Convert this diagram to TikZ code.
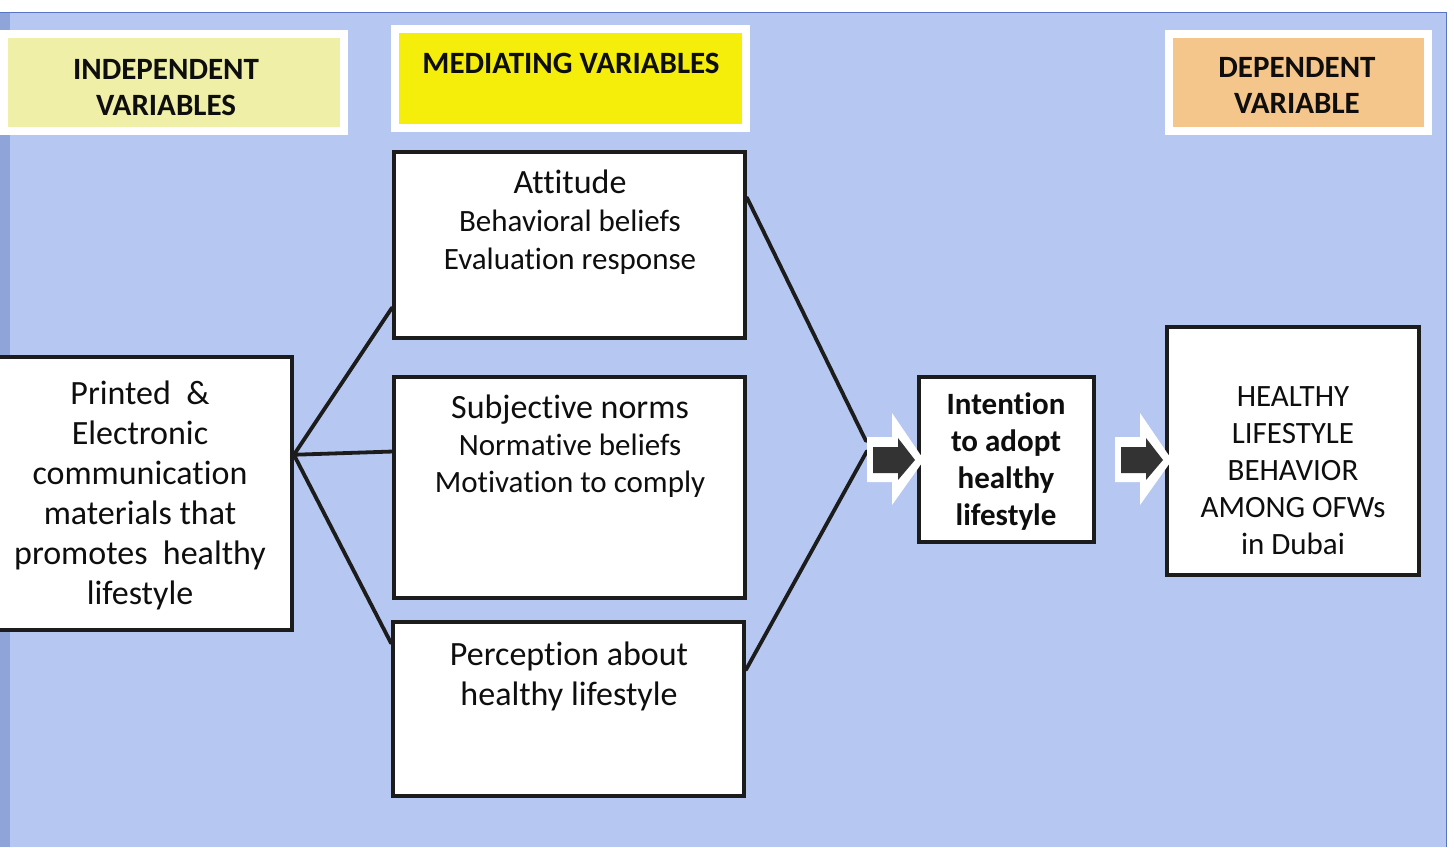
\documentclass[tikz,border=0pt]{standalone}
\usepackage{fontspec}
\setmainfont{Carlito}[Ligatures=NoCommon]
\usetikzlibrary{calc,shadows}
\definecolor{bgblue}{HTML}{B6C8F2}
\definecolor{edgeblue}{HTML}{8FA4D8}
\definecolor{lineblue}{HTML}{5A74C4}
\definecolor{paleyellow}{HTML}{EFEFA8}
\definecolor{brightyellow}{HTML}{F4EE0A}
\definecolor{paleorange}{HTML}{F5C68C}
\definecolor{boxline}{HTML}{1C1C1C}
\definecolor{ink}{HTML}{0E0E0E}
\definecolor{arrowdark}{HTML}{333333}
\tikzset{
  hdr/.style={draw=white, line width=8pt, inner sep=0pt,
    drop shadow={opacity=0.25, shadow xshift=1pt, shadow yshift=-2pt}},
  mainbox/.style={draw=boxline, fill=white, line width=3.8pt, inner sep=0pt},
  txt/.style={align=center, text=ink, inner sep=0pt},
  link/.style={draw=boxline, line width=3.8pt, line cap=round},
  blockarrow/.pic={
    \fill[white] (-57,-23) -- (-32,-23) -- (-32,-47) -- (0,0) -- (-32,45) -- (-32,22) -- (-57,22) -- cycle;
    \fill[arrowdark] (-51,-13) -- (-26,-13) -- (-26,-22) -- (-9,0) -- (-26,20) -- (-26,13) -- (-51,13) -- cycle;
  }
}
\begin{document}
\begin{tikzpicture}[x=1pt,y=-1pt]
\useasboundingbox (0,0) rectangle (1454,847);
% background
\fill[white] (0,0) rectangle (1454,847);
\fill[bgblue] (0,12) rectangle (1446,847);
\fill[edgeblue] (0,12) rectangle (10,847);
\draw[lineblue, line width=1pt] (0,12) -- (1446,12) -- (1446,847);

% header boxes
\node[hdr, fill=paleyellow, minimum width=340pt, minimum height=97pt] (hind) at (174,82.5) {};
\node[txt, font=\fontsize{31}{36}\selectfont\bfseries] (hindt) at (166,88) {INDEPENDENT\\VARIABLES};
\node[hdr, fill=brightyellow, minimum width=351pt, minimum height=99pt] (hmed) at (570.5,78.5) {};
\node[txt, font=\fontsize{31}{36}\selectfont\bfseries] (hmedt) at (571,63) {MEDIATING VARIABLES};
\node[hdr, fill=paleorange, minimum width=259pt, minimum height=97pt] (hdep) at (1298.5,82.5) {};
\node[txt, font=\fontsize{31}{36}\selectfont\bfseries] (hdept) at (1297,85) {DEPENDENT\\VARIABLE};

% main boxes
\node[mainbox, minimum width=302pt, minimum height=273pt] (left) at (141,493.5) {};
\node[txt, font=\fontsize{34}{40}\selectfont] (leftt) at (140,495) {Printed~~\&\\Electronic\\communication\\materials that\\promotes~~healthy\\lifestyle};

\node[mainbox, minimum width=351pt, minimum height=186pt] (att) at (569.5,245) {};
\node[txt, font=\fontsize{31}{38}\selectfont] (attt) at (570,222) {{\fontsize{34}{38}\selectfont Attitude}\\Behavioral beliefs\\Evaluation response};

\node[mainbox, minimum width=351pt, minimum height=221pt] (subj) at (569.5,487.5) {};
\node[txt, font=\fontsize{31}{37}\selectfont] (subjt) at (570,446) {{\fontsize{34}{37}\selectfont Subjective norms}\\Normative beliefs\\Motivation to comply};

\node[mainbox, minimum width=351pt, minimum height=174pt] (perc) at (568.5,709) {};
\node[txt, font=\fontsize{34}{40}\selectfont] (perct) at (569,676) {Perception about\\healthy lifestyle};

\node[mainbox, minimum width=175pt, minimum height=165pt] (intent) at (1006.5,459.5) {};
\node[txt, font=\fontsize{31}{37}\selectfont\bfseries] (intentt) at (1006,462) {Intention\\to adopt\\healthy\\lifestyle};

\node[mainbox, minimum width=252pt, minimum height=248pt] (beh) at (1293,451) {};
\node[txt, font=\fontsize{31}{37}\selectfont] (beht) at (1293,471) {HEALTHY\\LIFESTYLE\\BEHAVIOR\\AMONG OFWs\\in Dubai};

% connectors
\coordinate (hub) at ($(left.north east)!0.36!(left.south east)$);
\coordinate (conv1) at (866,441);
\coordinate (conv2) at (867,451);
\draw[link] (hub) -- ($(att.north west)!0.83!(att.south west)$);
\draw[link] (hub) -- ($(subj.north west)!0.34!(subj.south west)$);
\draw[link] (hub) -- ($(perc.north west)!0.13!(perc.south west)$);
\draw[link] ($(att.north east)!0.25!(att.south east)$) -- (conv1);
\draw[link] ($(perc.north east)!0.28!(perc.south east)$) -- (conv2);

% block arrows
\pic at (924,460) {blockarrow};
\pic at (1172,460) {blockarrow};
\end{tikzpicture}
\end{document}
